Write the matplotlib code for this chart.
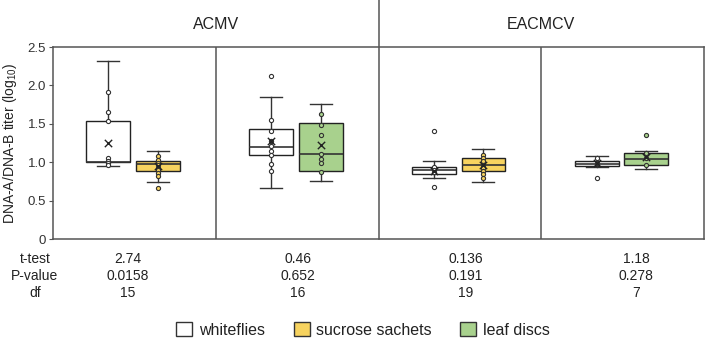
import numpy as np
import matplotlib
matplotlib.use('Agg')
import matplotlib.pyplot as plt
from matplotlib.patches import Patch

plt.rcParams['font.family'] = ['Liberation Sans', 'DejaVu Sans']
plt.rcParams['mathtext.fontset'] = 'custom'
plt.rcParams['mathtext.rm'] = 'Liberation Sans'

# data: boxes in order ACMV (wf, sucrose, wf, leaf), EACMCV (wf, sucrose, wf, leaf)
groups = ['ACMV', 'EACMCV']
kinds = ['wf', 'su', 'wf', 'lf', 'wf', 'su', 'wf', 'lf']
whislo = [0.955, 0.74, 0.67, 0.76, 0.79, 0.74, 0.94, 0.91]
q1 = [1.005, 0.88, 1.10, 0.89, 0.85, 0.88, 0.945, 0.97]
med = [1.005, 0.98, 1.20, 1.11, 0.90, 0.96, 0.98, 1.04]
q3 = [1.535, 1.015, 1.43, 1.51, 0.94, 1.06, 1.015, 1.115]
whishi = [2.32, 1.15, 1.85, 1.76, 1.02, 1.17, 1.08, 1.15]
means = [1.25, 0.95, 1.27, 1.22, 0.89, 0.96, 0.99, 1.07]
points = [
    [1.91, 1.65, 1.53, 1.06, 1.02, 0.99, 0.96],
    [1.08, 1.03, 0.99, 0.96, 0.93, 0.90, 0.86, 0.82, 0.67],
    [2.12, 1.55, 1.41, 1.27, 1.21, 1.14, 1.10, 0.98, 0.88],
    [1.63, 1.48, 1.35, 1.11, 1.04, 0.99, 0.87],
    [1.40, 0.94, 0.90, 0.87, 0.68],
    [1.10, 1.06, 1.01, 0.97, 0.93, 0.89, 0.84, 0.79],
    [1.06, 0.99, 0.80],
    [1.35, 1.115, 1.06, 0.96],
]
ttest = ['2.74', '0.46', '0.136', '1.18']
pvals = ['0.0158', '0.652', '0.191', '0.278']
dfs = ['15', '16', '19', '7']
yticks = [0, 0.5, 1.0, 1.5, 2.0, 2.5]
yticklabels = ['0', '0.5', '1.0', '1.5', '2.0', '2.5']

colors = {'wf': '#ffffff', 'su': '#f7d35f', 'lf': '#a8d18d'}
labels = {'wf': 'whiteflies', 'su': 'sucrose sachets', 'lf': 'leaf discs'}
frame = '#555555'

fig = plt.figure(figsize=(7.07, 3.41), dpi=100)
ax = fig.add_axes([53/707, 1-239/341, 651/707, 192/341])

pos = []
for i in range(4):
    pos += [i + 0.34, i + 0.645]

stats = []
for k in range(8):
    stats.append(dict(whislo=whislo[k], q1=q1[k], med=med[k], q3=q3[k],
                      whishi=whishi[k], fliers=[]))

bp = ax.bxp(stats, positions=pos, widths=0.27, patch_artist=True, showfliers=False,
            boxprops=dict(edgecolor='#222222', linewidth=1.0),
            medianprops=dict(color='#333333', linewidth=1.2),
            whiskerprops=dict(color='#333333', linewidth=1.0),
            capprops=dict(color='#333333', linewidth=1.0))
for patch, kd in zip(bp['boxes'], kinds):
    patch.set_facecolor(colors[kd])

for k in range(8):
    ax.scatter([pos[k]] * len(points[k]), points[k], s=9, facecolor=colors[kinds[k]],
               edgecolor='#333333', linewidth=0.8, zorder=4)
    ax.scatter([pos[k]], [means[k]], marker='x', s=28, color='#222222', linewidth=1.0, zorder=5)

ax.set_xlim(0, 4)
ax.set_ylim(0, 2.5)
ax.set_yticks(yticks)
ax.set_yticklabels(yticklabels, fontsize=9.5, color='#333333')
ax.set_xticks([])
ax.tick_params(axis='y', length=3, width=0.8, color=frame, pad=2)
for s in ax.spines.values():
    s.set_color(frame)
    s.set_linewidth(1.1)

for xd in [1, 3]:
    ax.axvline(xd, color=frame, linewidth=1.1)
ax.plot([2, 2], [0, 1.26], color=frame, linewidth=1.1, transform=ax.get_xaxis_transform(),
        clip_on=False)

for g, xc in zip(groups, [1, 3]):
    ax.text(xc, 1.115, g, transform=ax.get_xaxis_transform(), ha='center', va='center',
            fontsize=11.5, color='#222222')

ax.set_ylabel(r'DNA-A/DNA-B titer (log$_{10}$)', fontsize=10, color='#222222', labelpad=6)

# stats table below
row_y = [1-259/341, 1-276/341, 1-293/341]
col_x = [128/707, 298/707, 466/707, 636/707]
for lab, yy in zip(['t-test', 'P-value', 'df'], row_y):
    fig.text(35/707, yy, lab, ha='center', va='center', fontsize=10, color='#222222')
for vals, yy in zip([ttest, pvals, dfs], row_y):
    for v, xx in zip(vals, col_x):
        fig.text(xx, yy, v, ha='center', va='center', fontsize=10, color='#222222')

handles = [Patch(facecolor=colors[kd], edgecolor='#333333', linewidth=1.0) for kd in ['wf', 'su', 'lf']]
fig.legend(handles, [labels[kd] for kd in ['wf', 'su', 'lf']], loc='center',
           bbox_to_anchor=(363/707, 1-330/341), ncol=3, frameon=False, fontsize=11.5,
           handlelength=1.0, handleheight=1.0, handletextpad=0.4, columnspacing=1.8,
           labelcolor='#222222', borderaxespad=0, borderpad=0)

fig.savefig('out.png', dpi=100)
